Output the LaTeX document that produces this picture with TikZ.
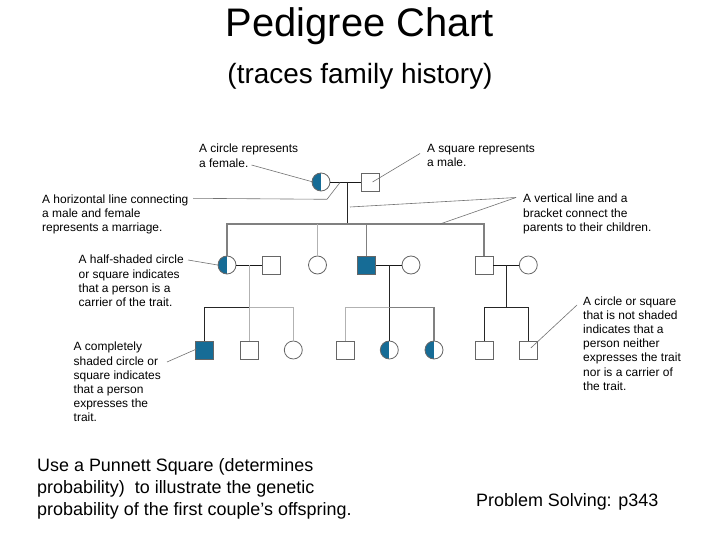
\documentclass[tikz,border=0pt]{standalone}
\usepackage{fontspec}
\setmainfont{Liberation Sans}
\definecolor{pedblue}{RGB}{22,108,150}
\tikzset{
  person/.style={draw=black!60, line width=0.8bp, inner sep=0, minimum size=18bp},
  fem/.style={person, circle},
  mal/.style={person, rectangle},
  aff/.style={fill=pedblue},
  carrier/.style={path picture={\fill[pedblue] (path picture bounding box.south west) rectangle (path picture bounding box.north);}},
  kin/.style={line width=1bp, draw=black!85},
  wed/.style={line width=0.8bp, draw=black!90},
  kinmid/.style={line width=1.2bp, draw=black!50},
  kinlt/.style={line width=1bp, draw=black!30},
  lead/.style={draw=black!55, line width=0.6bp},
  note/.style={font=\fontsize{12}{14.2}\selectfont, align=left, anchor=north west, inner sep=0},
}
\begin{document}
\begin{tikzpicture}[x=1bp,y=-1bp]
\fill[white] (0,0) rectangle (720,540);
\useasboundingbox (0,0) rectangle (720,540);

% titles
\node[anchor=base, font=\fontsize{40}{48}\selectfont, inner sep=0] (title) at (360,37) {Pedigree Chart};
\node[anchor=base, font=\fontsize{28}{34}\selectfont, inner sep=0] (sub) at (360,84) {(traces family history)};

% generation 1
\node[fem,carrier] (f1) at (321,182) {};
\node[mal] (m1) at (370.5,182) {};
\coordinate (u1) at (347.7,182);
\coordinate (b1) at (347.7,224);

% generation 2
\node[fem,carrier] (a) at (227,265) {};
\node[mal] (b) at (271.7,265) {};
\node[fem] (c) at (317.5,265) {};
\node[mal,aff] (d) at (366.7,265) {};
\node[fem] (e) at (411,265) {};
\node[mal] (g) at (484,265) {};
\node[fem] (h) at (528.3,265) {};
\coordinate (u2) at (249.3,265);
\coordinate (b2) at (249.3,307.3);
\coordinate (u3) at (389.3,265);
\coordinate (b3) at (389.3,307.3);
\coordinate (u4) at (506,265);
\coordinate (b4) at (506,307.3);

% generation 3
\node[mal,aff] (k1) at (204,350) {};
\node[mal] (k2) at (249.3,350) {};
\node[fem] (k3) at (293.3,350) {};
\node[mal] (k4) at (345,350) {};
\node[fem,carrier] (k5) at (389.3,350) {};
\node[fem,carrier] (k6) at (434,350) {};
\node[mal] (k7) at (484,350) {};
\node[mal] (k8) at (528.3,350) {};

% kinship lines
\draw[wed] (f1) -- (m1);
\draw[kin] (u1) -- (b1);
\draw[kinmid] (a.north) -- (a.north |- b1) -- (g.north |- b1) -- (g.north);
\draw[kinlt] (c.north) -- (c.north |- b1);
\draw[kinmid] (d.north) -- (d.north |- b1);

\draw[wed] (a) -- (b);
\draw[kinlt] (u2) -- (b2) -- (k2.north);
\draw[kin] (k1.north) -- (k1.north |- b2) -- (b2);
\draw[kinlt] (b2) -- (k3.north |- b2) -- (k3.north);

\draw[wed] (d) -- (e);
\draw[kin] (u3) -- (b3) -- (k5.north);
\draw[kinlt] (b3) -- (k4.north |- b3) -- (k4.north);
\draw[kinmid] (b3) -- (k6.north |- b3) -- (k6.north);

\draw[wed] (g) -- (h);
\draw[kin] (u4) -- (b4);
\draw[kin] (k7.north) -- (k7.north |- b4) -- (k8.north |- b4) -- (k8.north);

% annotations
\node[note] (t1) at (199,144) {A circle represents\\a female.};
\node[note] (t2) at (427,144) {A square represents\\a male.};
\node[note] (t3) at (42,194.5) {A horizontal line connecting\\a male and female\\represents a marriage.};
\node[note] (t4) at (523,194) {A vertical line and a\\bracket connect the\\parents to their children.};
\node[note] (t5) at (78.5,255) {A half-shaded circle\\or square indicates\\that a person is a\\carrier of the trait.};
\node[note] (t6) at (73.5,342) {A completely\\shaded circle or\\square indicates\\that a person\\expresses the\\trait.};
\node[note] (t7) at (583,296.5) {A circle or square\\that is not shaded\\indicates that a\\person neither\\expresses the trait\\nor is a carrier of\\the trait.};

% leader lines
\coordinate (l1) at (251.5,165);
\coordinate (l2) at (420,153.5);
\coordinate (l3) at (193,198.3);
\coordinate (l3b) at (327,199.3);
\coordinate (l3c) at (340,182.5);
\coordinate (l4) at (516,197.5);
\coordinate (l4a) at (350,207);
\coordinate (l4b) at (440,224);
\coordinate (l5) at (188,260);
\coordinate (l6) at (167,362);
\coordinate (l7) at (577,305);
\draw[lead] (l1) -- ([xshift=1.5bp]f1.west);
\draw[lead] (l2) -- ([xshift=2bp]m1.center);
\draw[lead] (l3) -- (l3b) -- (l3c);
\draw[lead] (l4) -- (l4a);
\draw[lead] (l4) -- (l4b);
\draw[lead] (l5) -- (a.west);
\draw[lead] (l6) -- ([xshift=2bp,yshift=1bp]k1.west);
\draw[lead] (l7) -- ([xshift=2.5bp,yshift=2bp]k8.center);

% bottom texts
\node[anchor=north west, inner sep=0, align=left, font=\fontsize{18}{22}\selectfont] (q) at (37,458) {Use a Punnett Square (determines\\probability)~ to illustrate the genetic\\probability of the first couple’s offspring.};
\node[anchor=north west, inner sep=0, font=\fontsize{18}{22}\selectfont] (ps) at (476,493) {Problem Solving: p343};
\end{tikzpicture}
\end{document}
